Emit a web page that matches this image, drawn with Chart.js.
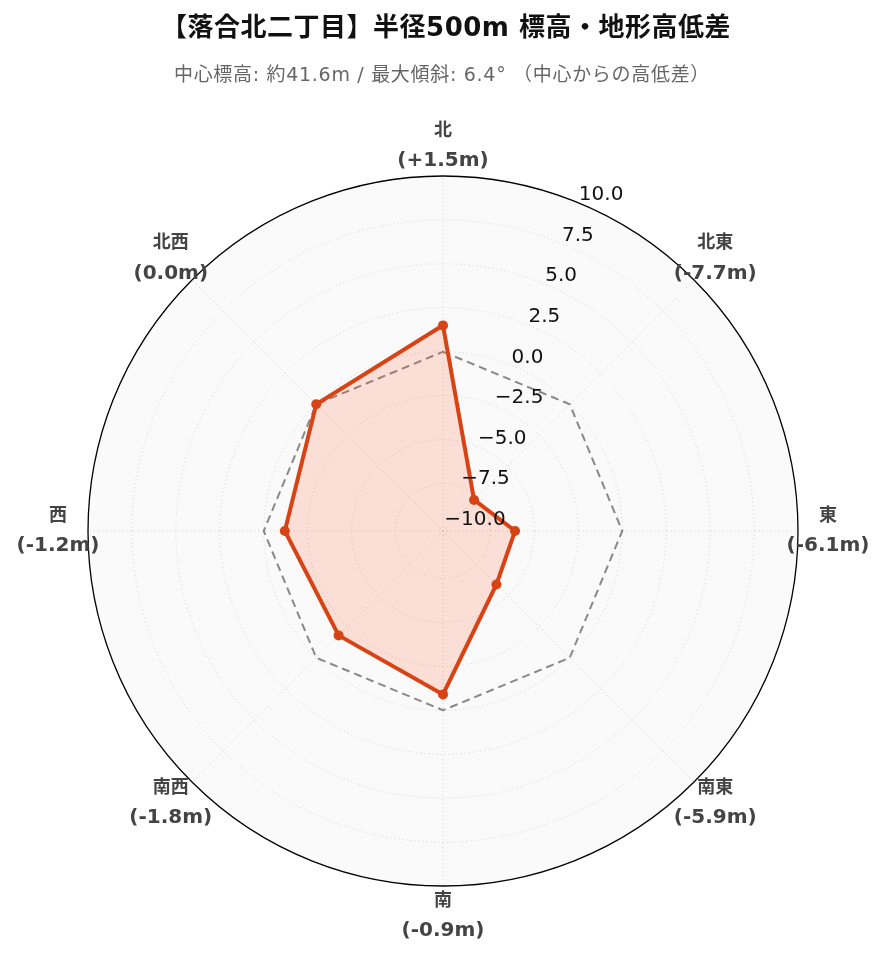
<!DOCTYPE html>
<html lang="ja">
<head>
<meta charset="utf-8">
<title>落合北二丁目 標高・地形高低差</title>
<script src="https://cdn.jsdelivr.net/npm/chart.js@4.4.1/dist/chart.umd.min.js"></script>
<style>
  html, body { margin: 0; padding: 0; background: #ffffff; }
  #wrap { width: 885px; height: 962px; }
</style>
</head>
<body>
<div id="wrap"><canvas id="chartTerreno" width="885" height="962"></canvas></div>
<script>
// Datos del gráfico
const direcciones = ['北', '北東', '東', '南東', '南', '南西', '西', '北西'];
const diferencias = [1.5, -7.7, -6.1, -5.9, -0.9, -1.8, -1.2, 0.0];
const referencia = [0, 0, 0, 0, 0, 0, 0, 0];
const ticksRadiales = [-10, -7.5, -5, -2.5, 0, 2.5, 5, 7.5, 10];
const rangoRadial = [-10.2, 10];

const tituloTexto = '【落合北二丁目】半径500m 標高・地形高低差';
const subtituloTexto = '中心標高: 約41.6m / 最大傾斜: 6.4° （中心からの高低差）';

const COLOR_LINEA = '#D84315';
const COLOR_RELLENO = 'rgba(255, 87, 34, 0.17)';
const FUENTE = '"DejaVu Sans", "Noto Sans CJK JP", sans-serif';

function etiquetaValor(v) {
    const signo = v > 0 ? '+' : '';
    return '(' + signo + v.toFixed(1) + 'm)';
}

// fondo del área polar
const fondoPolar = {
    id: 'fondoPolar',
    beforeDraw(chart) {
        const ctx = chart.ctx;
        const s = chart.scales.r;
        ctx.save();
        ctx.fillStyle = '#ffffff';
        ctx.fillRect(0, 0, chart.width, chart.height);
        ctx.beginPath();
        ctx.arc(s.xCenter, s.yCenter, s.drawingArea, 0, Math.PI * 2);
        ctx.fillStyle = '#fafafa';
        ctx.fill();
        ctx.restore();
    }
};

// títulos, etiquetas de dirección y ticks inclinados
const textosPolar = {
    id: 'textosPolar',
    afterDatasetsDraw(chart) {
        const ctx = chart.ctx;
        const s = chart.scales.r;
        ctx.save();

        ctx.textAlign = 'center';
        ctx.textBaseline = 'middle';
        ctx.fillStyle = '#111111';
        ctx.font = 'bold 26px ' + FUENTE;
        ctx.letterSpacing = '0.5px';
        ctx.fillText(tituloTexto, 446, 29);
        ctx.fillStyle = '#666666';
        ctx.font = '19px ' + FUENTE;
        ctx.letterSpacing = '0.7px';
        ctx.fillText(subtituloTexto, 442, 76);
        ctx.letterSpacing = '0px';

        // etiquetas de dirección
        ctx.fillStyle = '#444444';
        direcciones.forEach((dir, i) => {
            const p = s.getPointPosition(i, s.drawingArea + 30);
            ctx.font = 'bold 18px ' + FUENTE;
            ctx.fillText(dir, p.x, p.y - 15);
            ctx.font = 'bold 20px ' + FUENTE;
            ctx.fillText(etiquetaValor(diferencias[i]), p.x, p.y + 15);
        });

        // ticks radiales sobre el eje a 22.5°
        const ang = 22.5 * Math.PI / 180;
        ctx.textAlign = 'left';
        ctx.fillStyle = '#111111';
        ctx.font = '20px ' + FUENTE;
        ticksRadiales.forEach(v => {
            const r = s.getDistanceFromCenterForValue(v);
            const x = s.xCenter + r * Math.sin(ang);
            const y = s.yCenter - r * Math.cos(ang) - 8;
            const txt = (v < 0 ? '\u2212' : '') + Math.abs(v).toFixed(1);
            ctx.fillText(txt, x, y);
        });
        ctx.restore();
    }
};

document.addEventListener('DOMContentLoaded', function() {
    try {
        const el = document.getElementById('chartTerreno');
        new Chart(el.getContext('2d'), {
            type: 'radar',
            data: {
                labels: direcciones,
                datasets: [
                    {
                        label: '高低差',
                        data: diferencias,
                        borderColor: COLOR_LINEA,
                        backgroundColor: COLOR_RELLENO,
                        borderWidth: 4,
                        fill: 'start',
                        pointRadius: 5,
                        pointBackgroundColor: COLOR_LINEA,
                        pointBorderColor: COLOR_LINEA,
                        pointBorderWidth: 0
                    },
                    {
                        label: '中心 (0m)',
                        data: referencia,
                        borderColor: '#888888',
                        borderWidth: 2,
                        borderDash: [8, 5],
                        fill: false,
                        pointRadius: 0
                    }
                ]
            },
            options: {
                responsive: false,
                animation: false,
                devicePixelRatio: 1,
                layout: { padding: { left: 88, right: 87, top: 176, bottom: 76 } },
                plugins: {
                    legend: { display: false },
                    tooltip: { enabled: false },
                    title: { display: false }
                },
                scales: {
                    r: {
                        min: rangoRadial[0],
                        max: rangoRadial[1],
                        afterBuildTicks: axis => {
                            axis.ticks = ticksRadiales.map(v => ({ value: v }));
                        },
                        ticks: { display: false },
                        pointLabels: { display: false },
                        angleLines: {
                            color: '#d0d0d0',
                            lineWidth: 1,
                            borderDash: [1, 3]
                        },
                        grid: {
                            circular: true,
                            color: ctx => (ctx.tick && ctx.tick.value === 10) ? '#000000' : '#d0d0d0',
                            lineWidth: ctx => (ctx.tick && ctx.tick.value === 10) ? 1.3 : 1
                        },
                        border: {
                            dash: ctx => (ctx.tick && ctx.tick.value === 10) ? [] : [1, 3]
                        }
                    }
                }
            },
            plugins: [fondoPolar, textosPolar]
        });
    } catch (e) { console.error('Error en chartTerreno:', e); }
});
</script>
</body>
</html>
